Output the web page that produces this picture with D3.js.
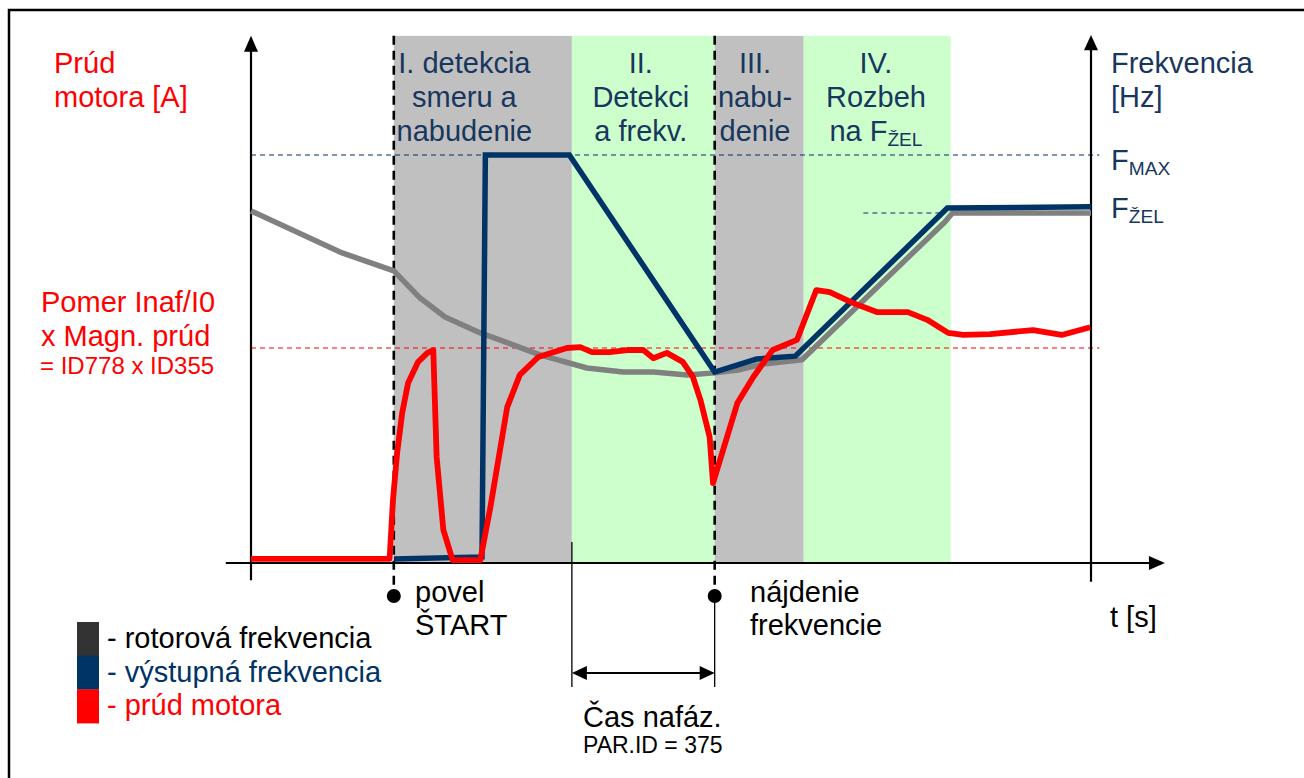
<!DOCTYPE html>
<html><head><meta charset="utf-8">
<script src="https://cdn.jsdelivr.net/npm/d3@7"></script>
<style>
body{margin:0;background:#fff;overflow:hidden}
svg{display:block}
text{font-family:"Liberation Sans",Arial,sans-serif}
</style>
</head><body>
<svg id="c" width="1304" height="778"></svg>
<script>
// ---------- data (time in % of plotted span, values in % of F_MAX) ----------
const phaseRanges = [[17.0, 38.2], [38.2, 55.2], [55.2, 65.8], [65.8, 83.3]];
const phaseCenters = [25.4, 46.4, 60.0, 74.4];
const phaseLabels = [
  ["I. detekcia", "smeru a", "nabudenie"],
  ["II.", "Detekci", "a frekv."],
  ["III.", "nabu-", "denie"],
  ["IV.", "Rozbeh", "na F_ŽEL"]
];
const startT = 17.0;       // povel ŠTART
const foundT = 55.2;       // nájdenie frekvencie
const phasingStartT = 38.2;
const fMax = 100;
const fRef = 85.8;
const fRefSpan = [72.9, 82.6];
const magnCurrent = 52.7;

const rotorFreq = [
  [0, 86.3], [10.6, 76.2], [17.0, 71.6], [20.1, 65.0], [23.1, 60.3], [27.3, 56.4],
  [29.6, 54.7], [34.4, 51.0], [40.0, 47.8], [44.3, 46.8], [47.9, 46.8], [51.9, 46.1],
  [55.2, 46.6], [58.0, 47.3], [61.0, 48.8], [65.6, 49.8], [82.6, 83.6], [83.5, 85.8], [100, 85.8]
];
const outputFreq = [
  [17.0, 1.0], [27.5, 1.5], [27.9, 100], [37.9, 100], [55.2, 46.8], [60.2, 50.0],
  [64.8, 50.7], [82.9, 87.0], [100, 87.3]
];
const motorCurrent = [
  [0, 1.0], [16.5, 1.0], [16.9, 15.4], [17.4, 27.0], [18.0, 36.8], [18.7, 44.1], [19.9, 49.3],
  [21.0, 51.5], [21.7, 52.2], [22.1, 26.0], [22.9, 8.1], [24.0, 0.7], [27.3, 0.7], [28.5, 13.7],
  [30.5, 38.2], [32.0, 46.1], [34.2, 50.5], [37.6, 52.7], [39.2, 52.9], [40.6, 51.7], [42.7, 51.7],
  [44.8, 52.2], [46.7, 52.2], [47.9, 50.2], [49.5, 51.5], [51.4, 49.3], [52.6, 45.6], [53.5, 40.0],
  [54.6, 30.9], [55.0, 19.6], [57.9, 39.2], [59.8, 45.6], [62.1, 52.2], [65.0, 54.7], [67.3, 66.9],
  [68.9, 66.4], [71.7, 63.7], [74.5, 61.5], [78.2, 61.5], [80.5, 59.6], [83.0, 56.4], [84.8, 55.9],
  [88.0, 56.1], [93.1, 57.1], [96.5, 55.9], [99.9, 57.8]
];
const legendItems = ["- rotorová frekvencia", "- výstupná frekvencia", "- prúd motora"];

// ---------- styles ----------
const C = {
  gray: "#c0c0c0", green: "#ccffcc", rotor: "#808080", out: "#003366", cur: "#ff0000",
  blueTxt: "#17375e", redTxt: "#ff0000", legendDark: "#333333"
};
const FS = 29, FS_SMALL = 24;

const svg = d3.select("#c");
const x = d3.scaleLinear().domain([0, 100]).range([251, 1091]);
const y = d3.scaleLinear().domain([0, 100]).range([563, 155]);
const yTop = 129.2;

// outer frame (top + left visible)
svg.append("rect").attr("x", 9).attr("y", 10).attr("width", 1500).attr("height", 900)
  .attr("fill", "none").attr("stroke", "#000").attr("stroke-width", 2.5);

// phase backgrounds
svg.selectAll("rect.phase").data(phaseRanges).join("rect").attr("class", "phase")
  .attr("x", d => x(d[0])).attr("width", d => x(d[1]) - x(d[0]))
  .attr("y", y(yTop)).attr("height", y(0) - y(yTop))
  .attr("fill", (d, i) => i % 2 ? C.green : C.gray);

// reference dashed levels
svg.append("line").attr("x1", x(0)).attr("x2", x(101)).attr("y1", y(fMax)).attr("y2", y(fMax))
  .attr("stroke", C.out).attr("stroke-width", 1.1).attr("stroke-dasharray", "5,4");
svg.append("line").attr("x1", x(fRefSpan[0])).attr("x2", x(fRefSpan[1])).attr("y1", y(fRef)).attr("y2", y(fRef))
  .attr("stroke", C.out).attr("stroke-width", 1.1).attr("stroke-dasharray", "5,4");
svg.append("line").attr("x1", x(0)).attr("x2", x(101)).attr("y1", y(magnCurrent)).attr("y2", y(magnCurrent))
  .attr("stroke", C.cur).attr("stroke-width", 1.1).attr("stroke-dasharray", "5,4");

// axes
const ax = svg.append("g").attr("stroke", "#000").attr("stroke-width", 2.2);
ax.append("line").attr("x1", x(-3)).attr("x2", x(107)).attr("y1", y(0)).attr("y2", y(0));
ax.append("line").attr("x1", x(0)).attr("x2", x(0)).attr("y1", y(-4.2)).attr("y2", y(126));
ax.append("line").attr("x1", x(100)).attr("x2", x(100)).attr("y1", y(-4.6)).attr("y2", y(126));
const arrows = svg.append("g").attr("fill", "#000");
arrows.append("path").attr("d", `M${x(0)},${y(129.2)} L${x(0) - 7},${y(125.3)} L${x(0) + 7},${y(125.3)}Z`);
arrows.append("path").attr("d", `M${x(100)},${y(129.4)} L${x(100) - 7},${y(125.7)} L${x(100) + 7},${y(125.7)}Z`);
arrows.append("path").attr("d", `M${x(108.8)},${y(0)} L${x(106.9)},${y(0) - 7} L${x(106.9)},${y(0) + 7}Z`);

// event markers (dashed verticals)
[startT, foundT].forEach(t => {
  svg.append("line").attr("x1", x(t)).attr("x2", x(t)).attr("y1", y(yTop)).attr("y2", 597)
    .attr("stroke", "#000").attr("stroke-width", 2.6).attr("stroke-dasharray", "9,6");
  svg.append("circle").attr("cx", x(t)).attr("cy", 596).attr("r", 7).attr("fill", "#000");
});
// phasing-time dimension
svg.append("line").attr("x1", x(phasingStartT)).attr("x2", x(phasingStartT)).attr("y1", 542).attr("y2", 687)
  .attr("stroke", "#000").attr("stroke-width", 1.3);
svg.append("line").attr("x1", x(foundT)).attr("x2", x(foundT)).attr("y1", 596).attr("y2", 687)
  .attr("stroke", "#000").attr("stroke-width", 1.3);
const ay = 673, ax1 = x(phasingStartT), ax2 = x(foundT);
svg.append("line").attr("x1", ax1 + 10).attr("x2", ax2 - 10).attr("y1", ay).attr("y2", ay)
  .attr("stroke", "#000").attr("stroke-width", 2.2);
svg.append("path").attr("d", `M${ax1},${ay} L${ax1 + 15},${ay - 7} L${ax1 + 15},${ay + 7}Z`).attr("fill", "#000");
svg.append("path").attr("d", `M${ax2},${ay} L${ax2 - 15},${ay - 7} L${ax2 - 15},${ay + 7}Z`).attr("fill", "#000");

// curves
const line = d3.line().x(d => x(d[0])).y(d => y(d[1]));
svg.append("path").datum(rotorFreq).attr("d", line).attr("fill", "none")
  .attr("stroke", C.rotor).attr("stroke-width", 5.5).attr("stroke-linejoin", "round");
svg.append("path").datum(outputFreq).attr("d", line).attr("fill", "none")
  .attr("stroke", C.out).attr("stroke-width", 5.5).attr("stroke-linejoin", "miter");
svg.append("path").datum(motorCurrent).attr("d", line).attr("fill", "none")
  .attr("stroke", C.cur).attr("stroke-width", 5.8).attr("stroke-linejoin", "round");

// ---------- text helper (supports "_" subscript) ----------
function txt(px, py, s, size, color, anchor) {
  const t = svg.append("text").attr("x", px).attr("y", py).attr("font-size", size)
    .attr("fill", color).attr("text-anchor", anchor || "start");
  const parts = s.split("_");
  t.append("tspan").text(parts[0]);
  if (parts[1]) t.append("tspan").attr("font-size", size * 0.66).attr("dy", 5).text(parts[1]);
  return t;
}

// phase labels
phaseLabels.forEach((lines, i) => {
  lines.forEach((s, j) => txt(x(phaseCenters[i]), 73 + j * 34, s, FS, C.blueTxt, "middle"));
});

// left axis labels
txt(54, 73, "Prúd", FS, C.redTxt);
txt(54, 107, "motora [A]", FS, C.redTxt);
txt(41, 312, "Pomer Inaf/I0", FS, C.redTxt);
txt(41, 346, "x Magn. prúd", FS, C.redTxt);
txt(40, 374, "= ID778 x ID355", FS_SMALL, C.redTxt);

// right axis labels
txt(1111, 73, "Frekvencia", FS, C.blueTxt);
txt(1111, 107, "[Hz]", FS, C.blueTxt);
txt(1111, 170, "F_MAX", FS, C.blueTxt);
txt(1111, 218, "F_ŽEL", FS, C.blueTxt);

// bottom annotations
txt(415, 602, "povel", FS, "#000");
txt(415, 635, "ŠTART", FS, "#000");
txt(750, 602, "nájdenie", FS, "#000");
txt(750, 635, "frekvencie", FS, "#000");
txt(583, 727, "Čas nafáz.", FS, "#000");
txt(583, 753, "PAR.ID = 375", FS_SMALL - 1, "#000");
txt(1110, 627, "t [s]", FS, "#000");

// legend
const legColors = [C.legendDark, C.out, C.cur];
const legColor = ["#000", C.out, C.cur];
legendItems.forEach((s, i) => {
  svg.append("rect").attr("x", 77).attr("y", 622 + i * 33.7).attr("width", 22).attr("height", 34)
    .attr("fill", legColors[i]);
  txt(107, 648 + i * 33.7, s, FS, legColor[i]);
});
</script>
</body></html>
